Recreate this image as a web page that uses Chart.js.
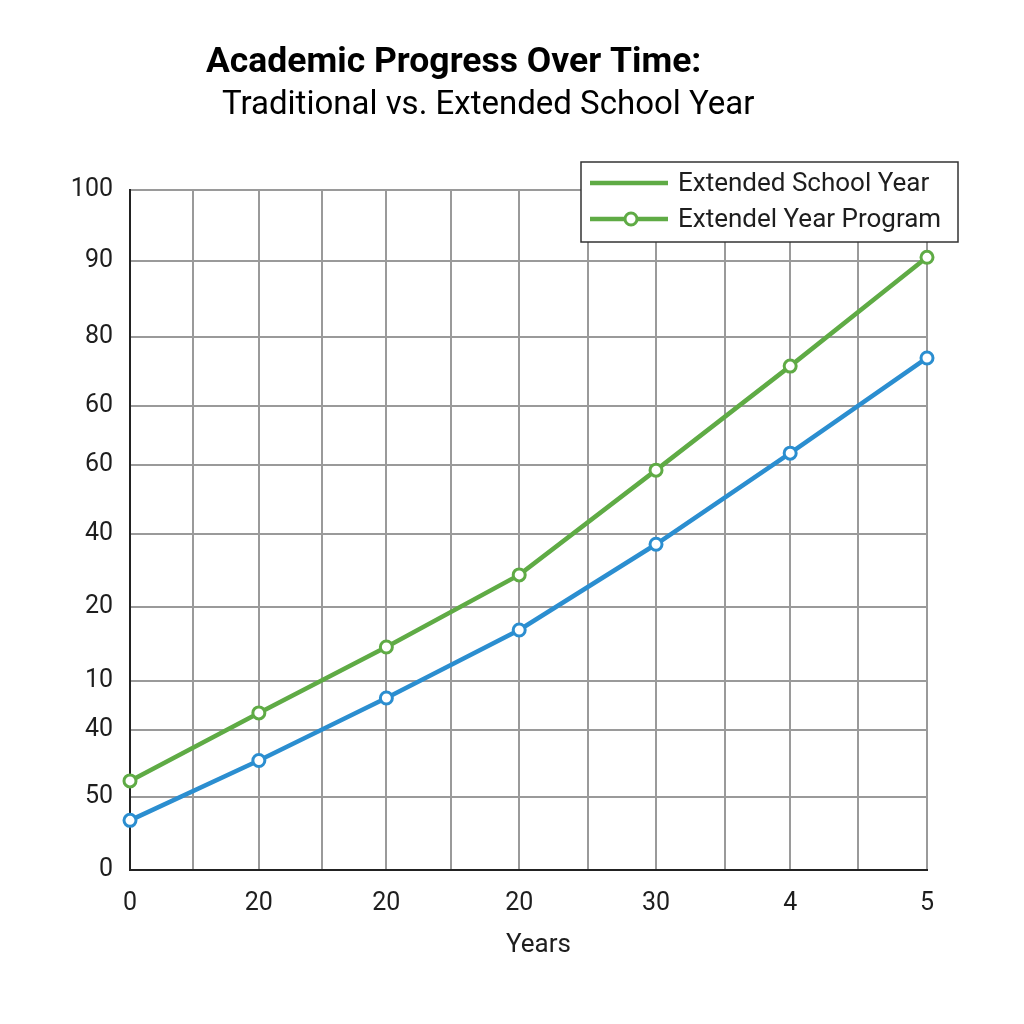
<!DOCTYPE html>
<html>
<head>
<meta charset="utf-8">
<title>Academic Progress Over Time</title>
<script src="https://cdn.jsdelivr.net/npm/chart.js@4.4.1/dist/chart.umd.min.js"></script>
<style>
  html, body { margin: 0; padding: 0; background: #ffffff; }
  #wrap { width: 1024px; height: 1024px; }
</style>
</head>
<body>
<div id="wrap"><canvas id="progressChart" width="1024" height="1024"></canvas></div>
<script>
// Chart text
const titleText = 'Academic Progress Over Time:';
const subtitleText = 'Traditional vs. Extended School Year';
const xAxisTitle = 'Years';

// X axis: gridline positions (0-12 scale) and their printed labels
const xTickValues = [0, 0.95, 1.94, 2.89, 3.86, 4.83, 5.86, 6.9, 7.92, 8.96, 9.94, 10.96, 12];
const xTickLabels = ['0', '', '20', '', '20', '', '20', '', '30', '', '4', '', '5'];

// Y axis: gridline positions (0-100 scale, bottom to top) and their printed labels
const yTickValues = [0, 10.7, 20.6, 27.8, 38.7, 49.4, 59.6, 68.2, 78.4, 89.6, 100];
const yTickLabels = ['0', '50', '40', '10', '20', '40', '60', '60', '80', '90', '100'];

// Series, one value per year point
const yearPositions = [0, 1.94, 3.86, 5.86, 7.92, 9.94, 12];
const extendedValues = [13.1, 23.1, 32.8, 43.4, 58.8, 74.1, 90.1];
const traditionalValues = [7.3, 16.1, 25.3, 35.3, 47.9, 61.3, 75.3];

// Legend entries (the blue series is not listed in the original)
const legendLabels = ['Extended School Year', 'Extendel Year Program'];
const legendMarkers = [false, true];

const green = '#5fab45';
const blue = '#2b8ed0';
const gridColor = '#9a9a9a';
const textColor = '#1e1e1e';
const fontFamily = 'Roboto, "Noto Sans", sans-serif';

function toPoints(values) {
    return values.map((v, i) => ({ x: yearPositions[i], y: v }));
}

// Title, subtitle and x axis caption, placed like the original
const titlePlugin = {
    id: 'titleText',
    afterDraw(chart) {
        const ctx = chart.ctx;
        const area = chart.chartArea;
        ctx.save();
        ctx.fillStyle = '#000000';
        ctx.textBaseline = 'alphabetic';
        ctx.textAlign = 'left';
        ctx.font = 'bold 35.5px ' + fontFamily;
        ctx.fillText(titleText, 206, 72);
        ctx.font = '33px ' + fontFamily;
        ctx.fillText(subtitleText, 222, 114);
        ctx.fillStyle = textColor;
        ctx.textAlign = 'center';
        ctx.font = '26px ' + fontFamily;
        ctx.fillText(xAxisTitle, (area.left + area.right) / 2 + 10, area.bottom + 82);
        ctx.restore();
    }
};

// Boxed legend in the top right corner
const boxLegendPlugin = {
    id: 'boxLegend',
    afterDraw(chart) {
        const ctx = chart.ctx;
        const area = chart.chartArea;
        const boxLeft = area.right - 346;
        const boxTop = area.top - 28;
        const boxW = 377;
        const boxH = 80;
        ctx.save();
        ctx.fillStyle = '#ffffff';
        ctx.fillRect(boxLeft, boxTop, boxW, boxH);
        ctx.strokeStyle = '#333333';
        ctx.lineWidth = 1.5;
        ctx.strokeRect(boxLeft, boxTop, boxW, boxH);
        ctx.font = '26px ' + fontFamily;
        ctx.textBaseline = 'middle';
        ctx.textAlign = 'left';
        legendLabels.forEach((label, i) => {
            const y = boxTop + 21 + i * 36;
            ctx.strokeStyle = green;
            ctx.lineWidth = 4.5;
            ctx.beginPath();
            ctx.moveTo(boxLeft + 9, y);
            ctx.lineTo(boxLeft + 87, y);
            ctx.stroke();
            if (legendMarkers[i]) {
                ctx.fillStyle = '#ffffff';
                ctx.lineWidth = 3;
                ctx.beginPath();
                ctx.arc(boxLeft + 50, y, 6, 0, Math.PI * 2);
                ctx.fill();
                ctx.stroke();
            }
            ctx.fillStyle = textColor;
            ctx.fillText(label, boxLeft + 97, y + 1);
        });
        ctx.restore();
    }
};

const ctx = document.getElementById('progressChart').getContext('2d');
const progressChart = new Chart(ctx, {
    type: 'line',
    data: {
        datasets: [
            {
                label: 'Traditional School Year',
                data: toPoints(traditionalValues),
                borderColor: blue,
                backgroundColor: '#ffffff',
                borderWidth: 4.5,
                pointRadius: 6,
                pointBorderWidth: 3,
                pointBackgroundColor: '#ffffff',
                pointBorderColor: blue,
                tension: 0,
                clip: false
            },
            {
                label: 'Extendel Year Program',
                data: toPoints(extendedValues),
                borderColor: green,
                backgroundColor: '#ffffff',
                borderWidth: 4.5,
                pointRadius: 6,
                pointBorderWidth: 3,
                pointBackgroundColor: '#ffffff',
                pointBorderColor: green,
                tension: 0,
                clip: false
            }
        ]
    },
    options: {
        responsive: false,
        animation: false,
        devicePixelRatio: 1,
        layout: { padding: { top: 190, right: 97, left: 0, bottom: 0 } },
        plugins: {
            legend: { display: false },
            title: { display: false },
            tooltip: { enabled: false }
        },
        scales: {
            x: {
                type: 'linear',
                min: 0,
                max: 12,
                afterFit(axis) { axis.height = 154; },
                afterBuildTicks(axis) {
                    axis.ticks = xTickValues.map(v => ({ value: v }));
                },
                ticks: {
                    autoSkip: false,
                    maxRotation: 0,
                    padding: 19,
                    color: textColor,
                    font: { family: fontFamily, size: 25 },
                    callback: (value, index) => xTickLabels[index]
                },
                grid: { color: gridColor, lineWidth: 2, drawTicks: false },
                border: { display: true, color: '#222222', width: 2 }
            },
            y: {
                type: 'linear',
                min: 0,
                max: 100,
                afterFit(axis) { axis.width = 130; },
                afterBuildTicks(axis) {
                    axis.ticks = yTickValues.map(v => ({ value: v }));
                },
                ticks: {
                    autoSkip: false,
                    padding: 17,
                    color: textColor,
                    font: { family: fontFamily, size: 25 },
                    callback: (value, index) => yTickLabels[index]
                },
                grid: { color: gridColor, lineWidth: 2, drawTicks: false },
                border: { display: true, color: '#222222', width: 2 }
            }
        }
    },
    plugins: [titlePlugin, boxLegendPlugin]
});
</script>
</body>
</html>
